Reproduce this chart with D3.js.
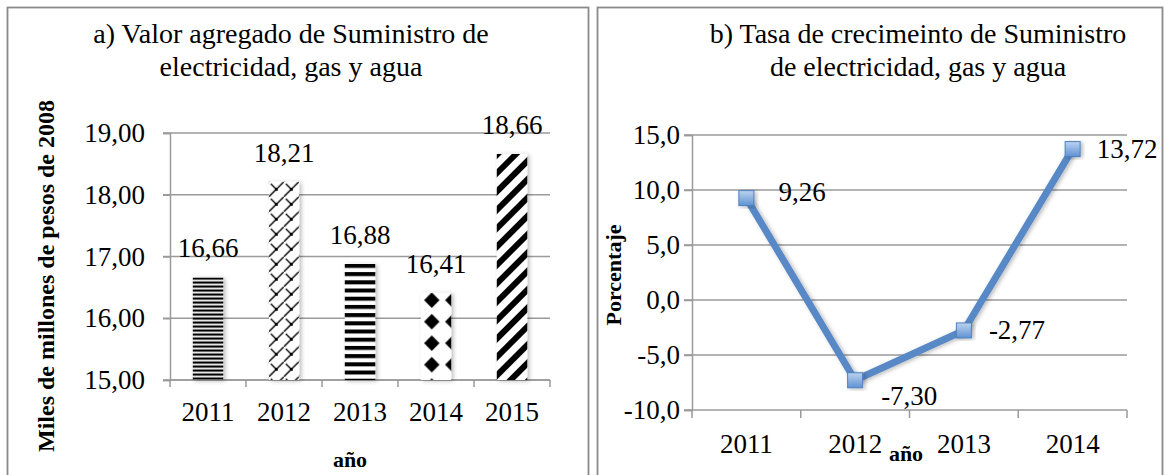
<!DOCTYPE html>
<html>
<head>
<meta charset="utf-8">
<script src="https://cdn.jsdelivr.net/npm/d3@7"></script>
<style>
  html, body { margin: 0; padding: 0; background: #fff; }
  svg { display: block; }
  text { font-family: "Liberation Serif", "DejaVu Serif", serif; fill: #000; }
</style>
</head>
<body>
<svg id="chart" width="1165" height="475"></svg>
<script>
// ---------- DATA ----------
const yearsA  = ["2011", "2012", "2013", "2014", "2015"];
const valuesA = [16.66, 18.21, 16.88, 16.41, 18.66];
const ticksA  = [15, 16, 17, 18, 19];

const yearsB  = ["2011", "2012", "2013", "2014"];
const valuesB = [9.26, -7.30, -2.77, 13.72];
const ticksB  = [-10, -5, 0, 5, 10, 15];

const titleA = ["a) Valor agregado de Suministro de", "electricidad, gas y agua"];
const titleB = ["b) Tasa de crecimeinto de Suministro", "de electricidad, gas y agua"];
const yTitleA = "Miles de millones de pesos de 2008";
const yTitleB = "Porcentaje";
const xTitle  = "año";

// ---------- SETUP ----------
const FONT = '"Liberation Serif", "DejaVu Serif", serif';
const loc = d3.formatLocale({decimal: ",", thousands: ".", grouping: [3], currency: ["", ""], minus: "-"});
const f2 = loc.format(".2f"), f1 = loc.format(".1f");
const svg = d3.select("#chart");
const gridColor = "#9a9a9a";
const borderColor = "#8a8a8a";

const defs = svg.append("defs");
const sh = defs.append("filter").attr("id", "shadow").attr("x", "-30%").attr("y", "-10%").attr("width", "160%").attr("height", "130%");
sh.append("feDropShadow").attr("dx", 2).attr("dy", 1).attr("stdDeviation", 2).attr("flood-color", "#000").attr("flood-opacity", 0.28);

// panel borders
svg.append("rect").attr("x", 7.5).attr("y", 7.5).attr("width", 581).attr("height", 480)
  .attr("fill", "none").attr("stroke", borderColor).attr("stroke-width", 1.8);
svg.append("rect").attr("x", 597.5).attr("y", 7.5).attr("width", 565).attr("height", 480)
  .attr("fill", "none").attr("stroke", borderColor).attr("stroke-width", 1.8);

// ---------- PANEL A ----------
const xA = d3.scaleBand().domain(yearsA).range([170, 550]).paddingInner(0.6).paddingOuter(0.3);
const yA = d3.scaleLinear().domain([15, 19]).range([380, 133]);

const gA = svg.append("g");
gA.append("text").attr("x", 291).attr("y", 43).attr("text-anchor", "middle").attr("font-size", 28)
  .selectAll("tspan").data(titleA).join("tspan").attr("x", 291).attr("dy", (d, i) => i ? 33 : 0).text(d => d);

gA.append("g").selectAll("line").data(ticksA).join("line")
  .attr("x1", 163).attr("x2", 550).attr("y1", d => yA(d)).attr("y2", d => yA(d))
  .attr("stroke", gridColor).attr("stroke-width", 1.5);
const axA = gA.append("g").attr("transform", "translate(170,0)")
  .call(d3.axisLeft(yA).tickValues(ticksA).tickFormat(f2).tickSize(7).tickPadding(18));
axA.attr("font-family", null);
axA.select(".domain").attr("stroke", gridColor).attr("stroke-width", 1.5);
axA.selectAll(".tick line").attr("stroke", gridColor).attr("stroke-width", 1.5);
axA.selectAll(".tick text").attr("font-size", 27).attr("fill", "#000").style("font-family", FONT);

const stepA = xA.step();
const boundsA = yearsA.map(d => xA(d) + xA.bandwidth() / 2 - stepA / 2).concat([xA(yearsA[yearsA.length - 1]) + xA.bandwidth() / 2 + stepA / 2]);
gA.append("line").attr("x1", 170).attr("x2", 550).attr("y1", yA(15)).attr("y2", yA(15)).attr("stroke", gridColor).attr("stroke-width", 1.5);
gA.append("g").selectAll("line").data(boundsA).join("line")
  .attr("x1", d => d).attr("x2", d => d).attr("y1", yA(15)).attr("y2", yA(15) + 7)
  .attr("stroke", gridColor).attr("stroke-width", 1.5);
gA.append("g").selectAll("text").data(yearsA).join("text")
  .attr("x", d => xA(d) + xA.bandwidth() / 2).attr("y", yA(15) + 41)
  .attr("text-anchor", "middle").attr("font-size", 27).text(d => d);

function pat(id, w, h, x, y) {
  return defs.append("pattern").attr("id", id).attr("patternUnits", "userSpaceOnUse")
    .attr("width", w).attr("height", h).attr("x", x).attr("y", y);
}
const bx = i => xA(yearsA[i]);
const by = i => yA(valuesA[i]);
// 2011 narrow horizontal
let p = pat("p0", 8, 4, 0, by(0));
p.append("rect").attr("width", 8).attr("height", 4).attr("fill", "#fff");
p.append("rect").attr("width", 8).attr("height", 2.2).attr("fill", "#000");
// 2012 shingle-like lattice
p = pat("p1", 15, 15, bx(1), by(1));
p.append("rect").attr("width", 15).attr("height", 15).attr("fill", "#fff");
p.append("path").attr("d", "M0,15 L15,0 M2,2 L7.5,7.5").attr("stroke", "#000").attr("stroke-width", 1.4).attr("fill", "none");
p.append("rect").attr("x", 6).attr("y", 6).attr("width", 3).attr("height", 3).attr("fill", "#000");
// 2013 wide horizontal
p = pat("p2", 8, 8.2, 0, by(2));
p.append("rect").attr("width", 8).attr("height", 8.2).attr("fill", "#fff");
p.append("rect").attr("width", 8).attr("height", 4).attr("fill", "#000");
// 2014 solid diamonds
p = pat("p3", 21, 21.5, bx(3) + 0.5, by(3) - 3.5);
p.append("rect").attr("width", 21).attr("height", 21.5).attr("fill", "#fff");
p.append("path").attr("d", "M10.5,3 L18.2,10.75 L10.5,18.5 L2.8,10.75 Z").attr("fill", "#000");
// 2015 wide upward diagonal
p = pat("p4", 13, 13, bx(4), by(4)).attr("patternTransform", "rotate(45)");
p.append("rect").attr("width", 13).attr("height", 13).attr("fill", "#fff");
p.append("rect").attr("width", 6).attr("height", 13).attr("fill", "#000");

gA.append("g").selectAll("rect").data(valuesA).join("rect")
  .attr("x", (d, i) => xA(yearsA[i])).attr("y", d => yA(d))
  .attr("width", xA.bandwidth()).attr("height", d => yA(15) - yA(d))
  .attr("fill", (d, i) => `url(#p${i})`).attr("filter", "url(#shadow)");
gA.append("g").selectAll("text").data(valuesA).join("text")
  .attr("x", (d, i) => xA(yearsA[i]) + xA.bandwidth() / 2).attr("y", d => yA(d) - 20)
  .attr("text-anchor", "middle").attr("font-size", 27).text(d => f2(d));

gA.append("text").attr("transform", "translate(54,276) rotate(-90)").attr("text-anchor", "middle")
  .attr("font-size", 24).attr("font-weight", "bold").text(yTitleA);
gA.append("text").attr("x", 350).attr("y", 467).attr("text-anchor", "middle")
  .attr("font-size", 22).attr("font-weight", "bold").text(xTitle);

// ---------- PANEL B ----------
const xB = d3.scaleBand().domain(yearsB).range([692, 1127]);
const yB = d3.scaleLinear().domain([-10, 15]).range([410, 135]);
const cx = d => xB(d) + xB.bandwidth() / 2;
const gB = svg.append("g");

gB.append("text").attr("x", 918).attr("y", 43).attr("text-anchor", "middle").attr("font-size", 28)
  .selectAll("tspan").data(titleB).join("tspan").attr("x", 918).attr("dy", (d, i) => i ? 33 : 0).text(d => d);

gB.append("g").selectAll("line").data(ticksB).join("line")
  .attr("x1", 684).attr("x2", 1127).attr("y1", d => yB(d)).attr("y2", d => yB(d))
  .attr("stroke", gridColor).attr("stroke-width", 1.5);
const axB = gB.append("g").attr("transform", "translate(692,0)")
  .call(d3.axisLeft(yB).tickValues(ticksB).tickFormat(f1).tickSize(8).tickPadding(4));
axB.attr("font-family", null);
axB.select(".domain").attr("stroke", gridColor).attr("stroke-width", 1.5);
axB.selectAll(".tick line").attr("stroke", gridColor).attr("stroke-width", 1.5);
axB.selectAll(".tick text").attr("font-size", 27).attr("fill", "#000").style("font-family", FONT);

const boundsB = yearsB.map(d => xB(d)).concat([xB(yearsB[yearsB.length - 1]) + xB.bandwidth()]);
gB.append("g").selectAll("line").data(boundsB).join("line")
  .attr("x1", d => d).attr("x2", d => d).attr("y1", yB(-10)).attr("y2", yB(-10) + 8)
  .attr("stroke", gridColor).attr("stroke-width", 1.5);
gB.append("g").selectAll("text").data(yearsB).join("text")
  .attr("x", d => cx(d)).attr("y", yB(-10) + 43)
  .attr("text-anchor", "middle").attr("font-size", 27).text(d => d);

const lineG = d3.line().x((d, i) => cx(yearsB[i])).y(d => yB(d));
gB.append("path").datum(valuesB).attr("d", lineG).attr("fill", "none")
  .attr("stroke", "#5889c6").attr("stroke-width", 7).attr("stroke-linejoin", "miter").attr("filter", "url(#shadow)");
const grad = defs.append("linearGradient").attr("id", "mk").attr("x1", 0).attr("y1", 0).attr("x2", 0).attr("y2", 1);
grad.append("stop").attr("offset", "0%").attr("stop-color", "#bcd3f0");
grad.append("stop").attr("offset", "100%").attr("stop-color", "#5f92d2");
gB.append("g").selectAll("rect").data(valuesB).join("rect")
  .attr("x", (d, i) => cx(yearsB[i]) - 7.5).attr("y", d => yB(d) - 7.5)
  .attr("width", 15).attr("height", 15).attr("fill", "url(#mk)")
  .attr("stroke", "#4f82c0").attr("stroke-width", 1).attr("filter", "url(#shadow)");
const labelShift = [[32, -6], [26, 16], [25, 0], [24, 0]];
gB.append("g").selectAll("text").data(valuesB).join("text")
  .attr("x", (d, i) => cx(yearsB[i]) + labelShift[i][0])
  .attr("y", (d, i) => yB(d) + labelShift[i][1] + 9)
  .attr("font-size", 27).text(d => f2(d));

gB.append("text").attr("transform", "translate(621,275) rotate(-90)").attr("text-anchor", "middle")
  .attr("font-size", 22).attr("font-weight", "bold").text(yTitleB);
gB.append("text").attr("x", 906).attr("y", 461).attr("text-anchor", "middle")
  .attr("font-size", 22).attr("font-weight", "bold").text(xTitle);
</script>
</body>
</html>
